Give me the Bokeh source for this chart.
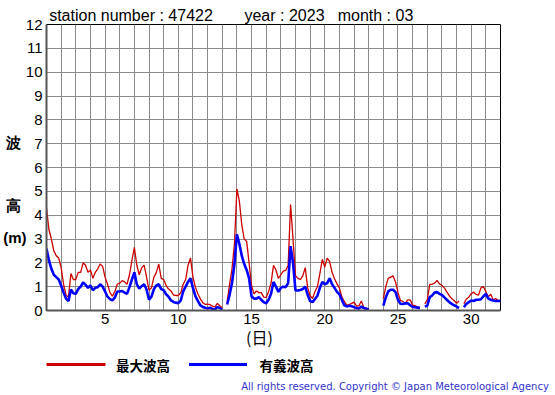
import numpy as np
from bokeh.plotting import figure
from bokeh.models import FixedTicker, Range1d, LinearAxis
from bokeh.layouts import column
from bokeh.core.properties import value
from bokeh.embed import file_html
from bokeh.resources import INLINE

nan = float("nan")

station_number = "47422"
year = "2023"
month = "03"
steps_per_day = 6  # 4-hourly readings

# 最大波高 (maximum wave height, m)
max_wave = [
    4.3, 3.4, 3.0, 2.5, 2.3, 2.2,      # 1
    1.8, 1.1, 0.65, 0.56, 1.55, 1.3,   # 2
    1.3, 1.6, 1.6, 2.0, 1.9, 1.6,      # 3
    1.7, 1.35, 1.6, 1.75, 1.95, 1.85,  # 4
    1.4, 1.1, 0.75, 0.6, 0.8, 1.1,     # 5
    1.15, 1.25, 1.2, 1.1, 1.5, 2.1,    # 6
    2.65, 1.9, 1.5, 1.8, 1.9, 1.4,     # 7
    0.85, 0.95, 1.4, 1.6, 1.95, 1.35,  # 8
    1.3, 1.05, 0.9, 0.82, 0.65, 0.63,  # 9
    0.63, 0.75, 1.1, 1.3, 1.9, 2.2,    # 10
    1.4, 0.98, 0.7, 0.5, 0.33, 0.26,   # 11
    0.27, 0.25, 0.18, 0.15, 0.3, 0.2,  # 12
    0.12, nan, 0.35, 1.1, 1.75, 2.8,   # 13
    5.1, 4.6, 3.6, 3.0, 2.9, 2.0,      # 14
    1.05, 0.7, 0.82, 0.75, 0.75, 0.56, # 15
    0.55, 0.8, 1.15, 1.9, 1.7, 1.35,   # 16
    1.5, 1.65, 1.68, 1.9, 4.45, 3.0,   # 17
    1.47, 1.35, 1.3, 1.45, 1.8, 0.95,  # 18
    0.62, 0.5, 0.8, 1.0, 1.55, 2.15,   # 19
    1.82, 2.2, 2.05, 1.6, 1.33, 1.12,  # 20
    0.95, 0.57, 0.38, 0.23, 0.25, 0.3, # 21
    0.35, 0.18, 0.2, 0.4, 0.12, 0.1,   # 22
    0.05, nan, nan, nan, nan, nan,     # 23
    0.5, 1.0, 1.35, 1.4, 1.45, 1.2,    # 24
    0.75, 0.42, 0.38, 0.3, 0.45, 0.45, # 25
    0.22, 0.2, 0.15, 0.14, nan, 0.28,  # 26
    0.45, 1.1, 1.1, 1.15, 1.26, 1.12,  # 27
    1.05, 0.95, 0.78, 0.62, 0.5, 0.42, # 28
    0.3, 0.4, nan, 0.28, 0.48, 0.56,   # 29
    0.7, 0.77, 0.68, 0.65, 0.95, 1.0,  # 30
    0.8, 0.57, 0.68, 0.45, 0.5, 0.42,  # 31
    0.42,
]

# 有義波高 (significant wave height, m)
sig_wave = [
    2.6, 2.1, 1.75, 1.5, 1.4, 1.3,     # 1
    1.05, 0.75, 0.5, 0.4, 0.88, 0.72,  # 2
    0.7, 0.9, 1.0, 1.18, 1.08, 0.95,   # 3
    1.05, 0.85, 0.95, 0.98, 1.1, 1.0,  # 4
    0.8, 0.58, 0.48, 0.42, 0.55, 0.8,  # 5
    0.8, 0.82, 0.75, 0.7, 0.98, 1.3,   # 6
    1.6, 1.1, 0.92, 1.02, 1.1, 0.88,   # 7
    0.45, 0.58, 0.9, 1.05, 1.1, 0.9,   # 8
    0.85, 0.68, 0.58, 0.42, 0.36, 0.33,# 9
    0.31, 0.42, 0.8, 1.0, 1.2, 1.35,   # 10
    0.95, 0.6, 0.4, 0.22, 0.15, 0.12,  # 11
    0.08, 0.12, 0.06, 0.04, 0.15, 0.1, # 12
    0.05, nan, 0.25, 0.65, 1.15, 1.95, # 13
    3.2, 2.8, 2.3, 1.95, 1.7, 1.35,    # 14
    0.6, 0.5, 0.5, 0.56, 0.45, 0.35,   # 15
    0.3, 0.45, 0.7, 1.2, 1.0, 0.78,    # 16
    0.95, 1.0, 0.98, 1.15, 2.7, 2.0,   # 17
    0.84, 0.84, 0.86, 0.9, 1.0, 0.65,  # 18
    0.4, 0.35, 0.48, 0.62, 0.95, 1.2,  # 19
    1.1, 1.15, 1.35, 1.1, 0.95, 0.78,  # 20
    0.68, 0.45, 0.22, 0.17, 0.2, 0.18, # 21
    0.14, 0.1, 0.08, 0.17, 0.1, 0.07,  # 22
    0.04, nan, nan, nan, nan, nan,     # 23
    0.2, 0.55, 0.8, 0.87, 0.87, 0.77,  # 24
    0.45, 0.28, 0.27, 0.3, 0.3, 0.22,  # 25
    0.15, 0.14, 0.12, 0.1, nan, 0.17,  # 26
    0.2, 0.56, 0.63, 0.75, 0.77, 0.7,  # 27
    0.65, 0.55, 0.45, 0.35, 0.28, 0.22,# 28
    0.17, 0.1, nan, 0.14, 0.28, 0.35,  # 29
    0.42, 0.4, 0.45, 0.45, 0.47, 0.6,  # 30
    0.7, 0.5, 0.45, 0.42, 0.4, 0.4,    # 31
    0.4,
]

x_ticks = [5, 10, 15, 20, 25, 30]
day_grid = list(range(1, 33))
y_ticks = list(range(0, 13))
title_texts = ["station number : " + station_number, "year : " + year, "month : " + month]
y_label_texts = ["波\u2004", "高\u2004", "(m)"]
x_label_text = "(日)"
legend_labels = ["最大波高", "有義波高"]
copyright_text = "All rights reserved. Copyright © Japan Meteorological Agency"

t = 1 + np.arange(len(max_wave)) / steps_per_day

RED = "#cc0000"
BLUE = "#0000ff"

# ---- geometry (canvas pixels) ----
W = 550
FL, FT, FW, FH = 46, 24, 454, 286
BOT1 = 42
H1 = FT + FH + BOT1
px_per_day = FW / 31.0
px_per_m = FH / 12.0
def xd(px):
    return round(1 + (px - FL) / px_per_day, 3)
def yd(py):
    return round((FT + FH - py) / px_per_m, 3)

p = figure(width=W, height=H1, x_range=Range1d(1, 32), y_range=Range1d(0, 12),
           output_backend="svg", toolbar_location=None,
           min_border_left=FL, min_border_top=FT,
           min_border_right=W - FL - FW, min_border_bottom=BOT1)
p.background_fill_color = "white"
p.border_fill_color = "white"
p.outline_line_color = "black"
p.outline_line_width = 1

p.xaxis.ticker = FixedTicker(ticks=x_ticks)
p.yaxis.ticker = FixedTicker(ticks=y_ticks)
p.xgrid.ticker = FixedTicker(ticks=day_grid)
p.ygrid.ticker = FixedTicker(ticks=y_ticks)
p.grid.grid_line_color = "#8a8a8a"
p.grid.grid_line_width = 1
p.grid.grid_line_alpha = 1.0
for ax in (p.xaxis, p.yaxis):
    ax.major_tick_line_color = None
    ax.minor_tick_line_color = None
    ax.major_tick_out = 0
    ax.major_tick_in = 0
    ax.minor_tick_out = 0
    ax.axis_line_color = "#555555"
    ax.axis_line_width = 2
    ax.major_label_text_font = "Liberation Sans"
    ax.major_label_text_font_size = "15px"
    ax.major_label_text_color = "black"
p.xaxis.major_label_standoff = 3
p.yaxis.major_label_standoff = 4

p.line(t, max_wave, line_color=RED, line_width=1.3)
p.line(t, sig_wave, line_color=BLUE, line_width=2.6)

def text_axis(ticks, labels, font, size, standoff, color="black", style="normal"):
    ax = LinearAxis(ticker=FixedTicker(ticks=ticks),
                    major_label_overrides=dict(zip(ticks, labels)))
    ax.axis_line_color = None
    ax.major_tick_line_color = None
    ax.minor_tick_line_color = None
    ax.major_tick_out = 0
    ax.major_tick_in = 0
    ax.minor_tick_out = 0
    ax.major_label_text_font = font
    ax.major_label_text_font_size = size
    ax.major_label_text_font_style = style
    ax.major_label_text_color = color
    ax.major_label_standoff = standoff
    return ax

# title line above the frame
title_ax = text_axis([xd(130.5), xd(284), xd(375)], title_texts,
                     "Liberation Sans", "16px", 1)
p.add_layout(title_ax, "above")

# vertical-axis caption on the left
ylab_ax = text_axis([yd(142), yd(205.5), yd(237.5)], y_label_texts,
                    "Liberation Sans", "15px", -4, style="bold")
p.add_layout(ylab_ax, "left")

# (日) under the day axis
xlab_ax = text_axis([xd(259)], [x_label_text], "Noto Sans CJK JP", "16px", -2)
p.add_layout(xlab_ax, "below")

# ---- legend / credit strip ----
H2 = 42
F2H = 26
p2 = figure(width=W, height=H2, x_range=Range1d(FL, FL + FW), y_range=Range1d(F2H, 0),
            output_backend="svg", toolbar_location=None,
            x_axis_type=None, y_axis_type=None,
            min_border_left=FL, min_border_right=W - FL - FW,
            min_border_top=0, min_border_bottom=H2 - F2H)
p2.outline_line_color = None
p2.background_fill_color = "white"
p2.border_fill_color = "white"

p2.segment(x0=[45.5, 188.5], y0=[12, 12], x1=[105, 246.5], y1=[12, 12],
           line_color=[RED, BLUE], line_width=3)
p2.text(x=[115.5, 259], y=[12, 12], text=legend_labels,
        text_font=value("Noto Sans CJK JP"), text_font_style="bold",
        text_font_size="13.5px", text_baseline="middle", text_align="left",
        text_color="black")

credit_ax = text_axis([394.5], [copyright_text], "DejaVu Sans", "10px", 2, color="#3333cc")
p2.add_layout(credit_ax, "below")

layout = column(p, p2, spacing=0)
open("out.html", "w").write(file_html(layout, INLINE))
